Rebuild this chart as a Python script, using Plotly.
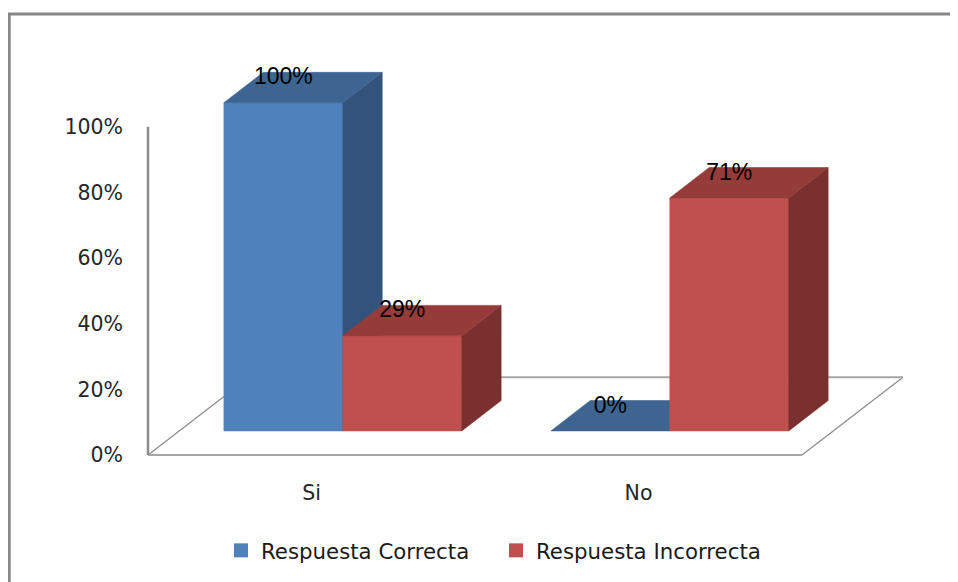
import plotly.graph_objects as go

categories = ["Si", "No"]
series_names = ["Respuesta Correcta", "Respuesta Incorrecta"]
correct_pct = [100, 0]
incorrect_pct = [29, 71]
value_ticks = [0, 20, 40, 60, 80, 100]
value_tick_labels = ["0%", "20%", "40%", "60%", "80%", "100%"]

# colours: front, top, side faces of each series
front_colors = ["#4F81BD", "#C0504D"]
top_colors = ["#3E6592", "#953C3A"]
side_colors = ["#34537C", "#7A302E"]

# the page puts the figure 8px in from the window corner
OFF = 8
W, H = 958 - OFF, 582 - OFF
ML, MR, MT, MB = 132, 40, 42, 110
PX_PER_CAT = 327.0
PX_PER_PCT = 3.29
ORIGIN_X, ORIGIN_Y = 148 - OFF, 456 - OFF   # floor's front-left corner
plot_w = W - ML - MR
plot_h = H - MT - MB
x_range = [(ML - ORIGIN_X) / PX_PER_CAT, (W - MR - ORIGIN_X) / PX_PER_CAT]
y_range = [-(H - MB - ORIGIN_Y) / PX_PER_PCT, (ORIGIN_Y - MT) / PX_PER_PCT]

# oblique projection of the depth axis (z from 0 = front to 1 = back)
DX = 101 / PX_PER_CAT
DY = 78 / PX_PER_PCT
BAR_W = 1 / 2.75
Z0, Z1 = 0.31, 0.70


def proj(pts):
    xs = [x + z * DX for x, v, z in pts]
    ys = [v + z * DY for x, v, z in pts]
    return xs, ys


def poly(pts, color):
    xs, ys = proj(pts + [pts[0]])
    return go.Scatter(
        x=xs, y=ys, mode="lines", fill="toself", fillcolor=color,
        line={"color": color, "width": 0.6}, hoverinfo="skip", showlegend=False,
    )


def seg(a, b, color, width):
    xs, ys = proj([a, b])
    return go.Scatter(
        x=xs, y=ys, mode="lines", line={"color": color, "width": width},
        hoverinfo="skip", showlegend=False,
    )


fig = go.Figure()

n = len(categories)
floor = [(0, 0, 0), (n, 0, 0), (n, 0, 1), (0, 0, 1)]
fig.add_trace(poly(floor, "white"))
fig.add_trace(seg(floor[3], floor[0], "#8E8E8E", 1.3))
fig.add_trace(seg(floor[1], floor[2], "#8E8E8E", 1.3))
fig.add_trace(seg(floor[2], floor[3], "#A6A6A6", 2))
fig.add_trace(seg(floor[0], floor[1], "#A6A6A6", 2))
fig.add_trace(seg((0, 0, 0), (0, value_ticks[-1], 0), "#8C8C8C", 2.5))

series_values = [correct_pct, incorrect_pct]
label_x, label_y, label_text = [], [], []
for i, cat in enumerate(categories):
    for j, values in enumerate(series_values):
        v = values[i]
        x0 = i + 0.5 - BAR_W + j * BAR_W
        x1 = x0 + BAR_W
        if v > 0:
            fig.add_trace(poly([(x0, 0, Z0), (x1, 0, Z0), (x1, v, Z0), (x0, v, Z0)], front_colors[j]))
            fig.add_trace(poly([(x1, 0, Z0), (x1, 0, Z1), (x1, v, Z1), (x1, v, Z0)], side_colors[j]))
        fig.add_trace(poly([(x0, v, Z0), (x1, v, Z0), (x1, v, Z1), (x0, v, Z1)], top_colors[j]))
        label_x.append((x0 + x1) / 2 + Z0 * DX)
        label_y.append(v + 0.62 * DY)
        label_text.append(f"{v}%")

fig.add_trace(
    go.Scatter(
        x=label_x, y=label_y, text=label_text, mode="text",
        textfont={"family": "Liberation Sans, Arial", "size": 23, "color": "#000000"},
        hoverinfo="skip", showlegend=False, cliponaxis=False,
    )
)

for j, name in enumerate(series_names):
    fig.add_trace(
        go.Scatter(
            x=[None], y=[None], mode="markers", name=name,
            marker={"symbol": "square", "size": 14, "color": front_colors[j]},
        )
    )


def paper_x(px):
    return (px - OFF - ML) / plot_w


def paper_y(py):
    return (H - MB - (py - OFF)) / plot_h


fig.add_shape(
    type="rect", xref="paper", yref="paper",
    x0=paper_x(9.2), x1=paper_x(975), y0=paper_y(14), y1=paper_y(600),
    line={"color": "#878787", "width": 3}, fillcolor="rgba(0,0,0,0)", layer="below",
)

fig.update_layout(
    width=W, height=H,
    margin={"l": ML, "r": MR, "t": MT, "b": MB},
    paper_bgcolor="white", plot_bgcolor="white",
    font={"family": "DejaVu Sans, Verdana, sans-serif", "size": 20.5, "color": "#262626"},
    showlegend=True,
    legend={
        "orientation": "h", "x": paper_x(221), "xanchor": "left",
        "y": paper_y(530), "yanchor": "top",
        "font": {"size": 21.3, "color": "#1A1A1A"}, "bgcolor": "rgba(0,0,0,0)",
        "itemwidth": 30, "entrywidth": 230, "entrywidthmode": "pixels",
    },
    xaxis={
        "range": x_range, "tickvals": [i + 0.5 for i in range(n)], "ticktext": categories,
        "showgrid": False, "zeroline": False, "showline": False, "ticks": "",
        "ticklabelstandoff": 7, "fixedrange": True,
    },
    yaxis={
        "range": y_range, "tickvals": value_ticks, "ticktext": value_tick_labels,
        "showgrid": False, "zeroline": False, "showline": False, "ticks": "",
        "ticklabelstandoff": 16, "fixedrange": True,
    },
)

fig.write_html("out.html")
